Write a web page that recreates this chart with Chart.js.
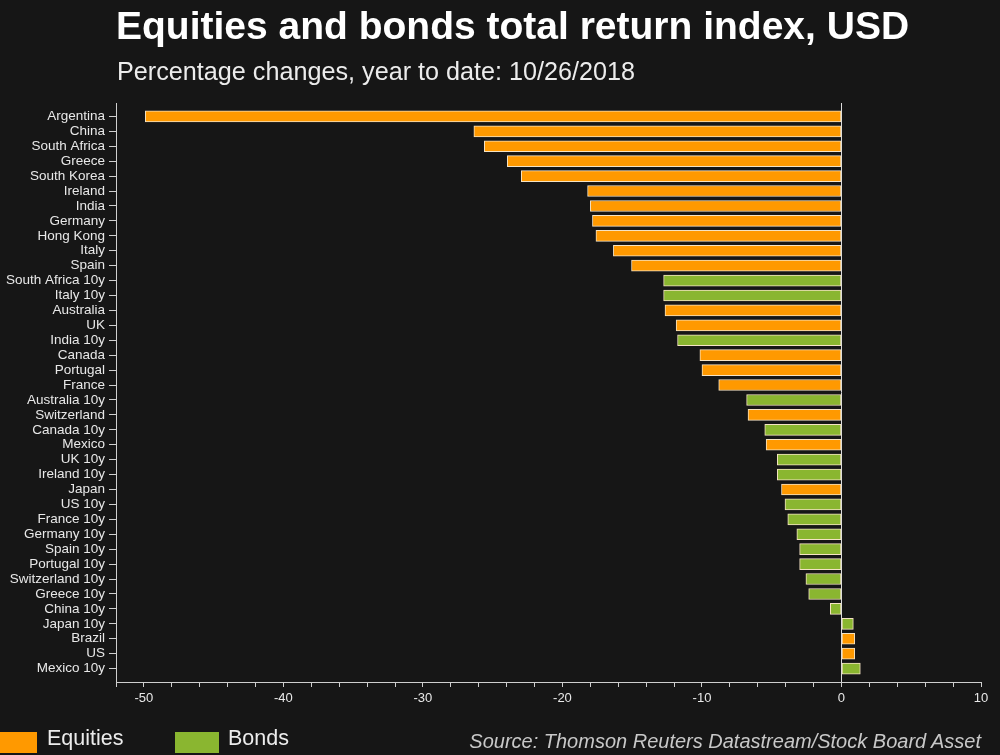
<!DOCTYPE html>
<html>
<head>
<meta charset="utf-8">
<script src="https://cdn.jsdelivr.net/npm/chart.js@4.4.1/dist/chart.umd.min.js"></script>
<style>
  html, body { margin: 0; padding: 0; background: #161616; }
  body { width: 1000px; height: 755px; position: relative; overflow: hidden; font-family: "Liberation Sans", Arial, sans-serif; }
  #chart { position: absolute; left: 0; top: 0; }
  .txt { position: absolute; white-space: nowrap; }
  #title { left: 116px; top: 6px; font-size: 39px; line-height: 39px; font-weight: bold; color: #fff; }
  #subtitle { left: 117px; top: 59px; font-size: 25.2px; line-height: 25.2px; color: #ececec; }
  .swatch { position: absolute; top: 732px; height: 21px; }
  .legtxt { top: 728px; font-size: 21.5px; line-height: 21.5px; color: #ececec; }
  #source { right: 19px; top: 731px; font-size: 20px; line-height: 20px; font-style: italic; color: #c8c8c8; }
</style>
</head>
<body>
<canvas id="chart" width="1000" height="755"></canvas>
<div id="title" class="txt">Equities and bonds total return index, USD</div>
<div id="subtitle" class="txt">Percentage changes, year to date: 10/26/2018</div>
<div class="swatch" style="left:0;width:37px;background:#ff9900"></div>
<div class="txt legtxt" style="left:47px">Equities</div>
<div class="swatch" style="left:175px;width:44px;background:#8ab630"></div>
<div class="txt legtxt" style="left:228px">Bonds</div>
<div id="source" class="txt">Source: Thomson Reuters Datastream/Stock Board Asset</div>
<script>
const categories = [
  "Argentina", "China", "South Africa", "Greece", "South Korea", "Ireland", "India",
  "Germany", "Hong Kong", "Italy", "Spain", "South Africa 10y", "Italy 10y", "Australia",
  "UK", "India 10y", "Canada", "Portugal", "France", "Australia 10y", "Switzerland",
  "Canada 10y", "Mexico", "UK 10y", "Ireland 10y", "Japan", "US 10y", "France 10y",
  "Germany 10y", "Spain 10y", "Portugal 10y", "Switzerland 10y", "Greece 10y", "China 10y",
  "Japan 10y", "Brazil", "US", "Mexico 10y"
];

// % change year to date, USD
const returns = [
  -49.9, -26.35, -25.6, -23.95, -22.95, -18.2, -18.0,
  -17.85, -17.6, -16.35, -15.05, -12.75, -12.75, -12.65,
  -11.85, -11.75, -10.15, -10.0, -8.8, -6.8, -6.7,
  -5.5, -5.4, -4.6, -4.6, -4.3, -4.05, -3.85,
  -3.2, -3.0, -3.0, -2.55, -2.35, -0.8,
  0.85, 0.95, 0.95, 1.35
];

// E = equities, B = bonds
const assetClass = [
  "E", "E", "E", "E", "E", "E", "E",
  "E", "E", "E", "E", "B", "B", "E",
  "E", "B", "E", "E", "E", "B", "E",
  "B", "E", "B", "B", "E", "B", "B",
  "B", "B", "B", "B", "B", "B",
  "B", "E", "E", "B"
];

const xTicksMin = -52;
const xTicksMax = 10;

const COLORS = {
  E: "#ff9900",
  B: "#8ab630",
  border: "#f5e3c4",
  axis: "#cfcfcf",
  text: "#e8e8e8"
};

function seriesPoints(cls) {
  const pts = [];
  returns.forEach((v, i) => {
    if (assetClass[i] === cls) pts.push({ x: v, y: i });
  });
  return pts;
}

const barStyle = {
  borderColor: COLORS.border,
  borderWidth: 1,
  borderSkipped: false,
  barThickness: 11
};

new Chart(document.getElementById("chart"), {
  type: "bar",
  data: {
    datasets: [
      { label: "Equities", data: seriesPoints("E"), backgroundColor: COLORS.E, ...barStyle },
      { label: "Bonds", data: seriesPoints("B"), backgroundColor: COLORS.B, ...barStyle }
    ]
  },
  options: {
    indexAxis: "y",
    responsive: false,
    animation: false,
    layout: { padding: { top: 103, right: 19, bottom: 0, left: 0 } },
    plugins: {
      legend: { display: false },
      tooltip: { enabled: false }
    },
    scales: {
      y: {
        type: "linear",
        stacked: true,
        reverse: true,
        offset: false,
        min: -0.9,
        max: categories.length - 1 + 0.9,
        afterBuildTicks(scale) {
          scale.ticks = categories.map((c, i) => ({ value: i }));
        },
        afterFit(scale) { scale.width = 116; },
        grid: { offset: false, drawOnChartArea: false, tickLength: 7, tickColor: COLORS.axis },
        border: { color: COLORS.axis, width: 1 },
        ticks: {
          autoSkip: false,
          padding: 4,
          color: COLORS.text,
          font: { family: "'Liberation Sans', Arial, sans-serif", size: 13.5 },
          callback: v => categories[v]
        }
      },
      x: {
        type: "linear",
        min: xTicksMin,
        max: xTicksMax,
        afterFit(scale) { scale.height = 73; },
        grid: {
          color: ctx => (ctx.tick && ctx.tick.value === 0) ? "#dcdcdc" : "rgba(0,0,0,0)",
          tickColor: COLORS.axis,
          tickLength: 5
        },
        border: { color: COLORS.axis, width: 1 },
        ticks: {
          stepSize: 2,
          autoSkip: false,
          maxRotation: 0,
          padding: 4,
          color: COLORS.text,
          font: { family: "'Liberation Sans', Arial, sans-serif", size: 13 },
          callback: v => (v % 10 === 0 ? String(v) : "")
        }
      }
    }
  }
});
</script>
</body>
</html>
